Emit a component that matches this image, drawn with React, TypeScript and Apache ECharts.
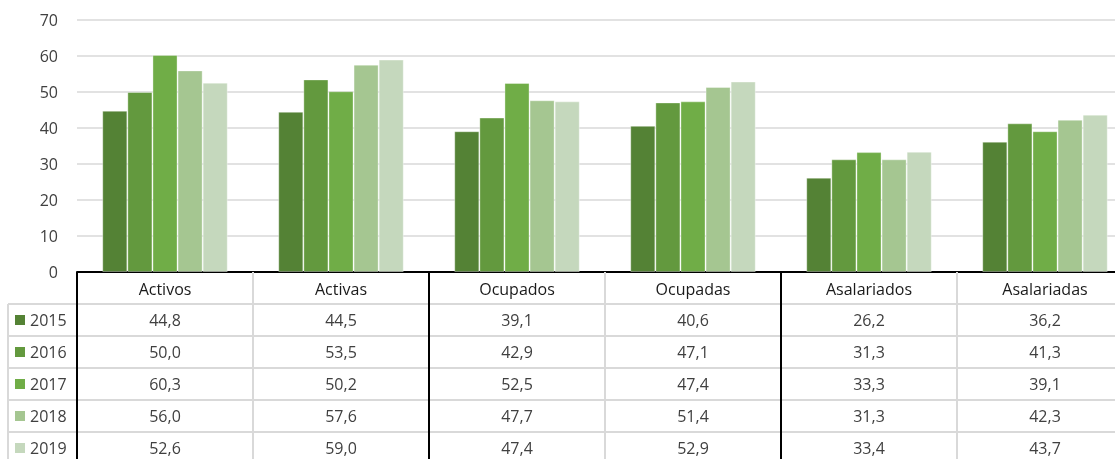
import React, { useEffect, useRef } from 'react';
import * as echarts from 'echarts';

const categories = ['Activos', 'Activas', 'Ocupados', 'Ocupadas', 'Asalariados', 'Asalariadas'];
const years = ['2015', '2016', '2017', '2018', '2019'];
const v2015 = [44.8, 44.5, 39.1, 40.6, 26.2, 36.2];
const v2016 = [50.0, 53.5, 42.9, 47.1, 31.3, 41.3];
const v2017 = [60.3, 50.2, 52.5, 47.4, 33.3, 39.1];
const v2018 = [56.0, 57.6, 47.7, 51.4, 31.3, 42.3];
const v2019 = [52.6, 59.0, 47.4, 52.9, 33.4, 43.7];
const seriesValues = [v2015, v2016, v2017, v2018, v2019];
const colors = ['#548235', '#63993e', '#70ad47', '#a5c691', '#c5d8bd'];
const yMin = 0;
const yMax = 70;
const yInterval = 10;

const FONT = '"Open Sans", "Noto Sans", sans-serif';
const ROW_H = 32;

export default function App() {
  const ref = useRef<HTMLDivElement>(null);
  useEffect(() => {
    const chart = echarts.init(ref.current!, null, { renderer: 'svg' });
    const series = years.map((y, i) => ({
      name: y,
      type: 'bar',
      data: seriesValues[i],
      barGap: '0%',
      barCategoryGap: '28.7%',
      itemStyle: { color: colors[i], borderColor: 'rgba(255,255,255,0.35)', borderWidth: 1 },
    }));
    chart.setOption({
      animation: false,
      grid: { left: 77, top: 20, width: 1056, bottom: 187, containLabel: false, outerBoundsMode: 'none' },
      xAxis: {
        type: 'category',
        data: categories,
        axisLine: { show: true, lineStyle: { color: '#000', width: 2 } },
        axisTick: { show: false },
        axisLabel: { fontFamily: FONT, fontSize: 16, color: '#1a1a1a', margin: 9 },
        splitLine: { show: false },
      },
      yAxis: {
        type: 'value',
        min: yMin,
        max: yMax,
        interval: yInterval,
        axisLine: { show: false },
        axisTick: { show: false },
        axisLabel: { fontFamily: FONT, fontSize: 16, color: '#404040', margin: 19 },
        splitLine: { lineStyle: { color: '#d9d9d9', width: 1.5 } },
      },
      series,
    });

    const zeroY = chart.convertToPixel({ yAxisIndex: 0 }, 0) as number;
    const xs = categories.map((c) => chart.convertToPixel({ xAxisIndex: 0 }, c) as number);
    const band = xs[1] - xs[0];
    const bottom = 470;
    const elements: any[] = [];
    const grey = '#d9d9d9';
    for (let r = 0; r < years.length; r++) {
      const y = zeroY + ROW_H * (r + 1);
      elements.push({
        type: 'line', z: 5,
        shape: { x1: 8, y1: y, x2: 1115, y2: y },
        style: { stroke: grey, lineWidth: 2 },
      });
    }
    elements.push({
      type: 'line', z: 5,
      shape: { x1: 8, y1: zeroY + ROW_H, x2: 8, y2: bottom },
      style: { stroke: grey, lineWidth: 2 },
    });
    for (let i = 0; i <= categories.length; i++) {
      const x = xs[0] - band / 2 + band * i;
      const black = i % 2 === 0;
      elements.push({
        type: 'line', z: black ? 10 : 5,
        shape: { x1: x, y1: zeroY, x2: x, y2: bottom },
        style: { stroke: black ? '#000' : grey, lineWidth: 2 },
      });
    }
    years.forEach((y, r) => {
      const cy = zeroY + ROW_H * (r + 1) + ROW_H / 2;
      elements.push({
        type: 'rect', z: 6,
        shape: { x: 15, y: cy - 5, width: 10, height: 10 },
        style: { fill: colors[r] },
      });
      elements.push({
        type: 'text', z: 6, x: 30, y: cy,
        style: { text: y, fontFamily: FONT, fontSize: 16, fill: '#404040', align: 'left', verticalAlign: 'middle' },
      });
      seriesValues[r].forEach((v, c) => {
        elements.push({
          type: 'text', z: 6, x: xs[c], y: cy,
          style: {
            text: v.toFixed(1).replace('.', ','),
            fontFamily: FONT, fontSize: 16, fill: '#404040', align: 'center', verticalAlign: 'middle',
          },
        });
      });
    });
    chart.setOption({ graphic: elements });
    return () => chart.dispose();
  }, []);
  return <div ref={ref} style={{ position: 'fixed', left: 0, top: 0, width: 1115, height: 459 }} />;
}
